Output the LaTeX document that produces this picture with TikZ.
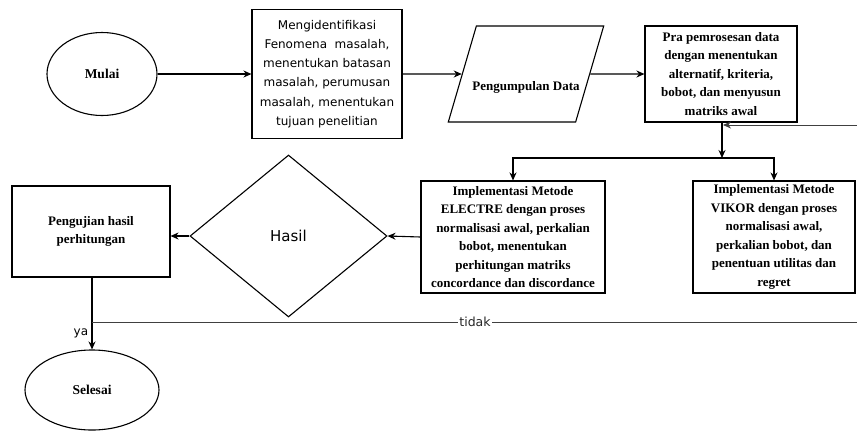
\documentclass[tikz,border=0pt]{standalone}
\usepackage{fontspec}
\setmainfont{Liberation Serif}
\setsansfont{DejaVu Sans}
\usetikzlibrary{shapes.geometric,arrows.meta}
\begin{document}
\begin{tikzpicture}[x=1pt,y=-1pt,line width=1.1pt,>={Stealth[length=8pt,width=7pt]},
	box/.style={draw,rectangle,inner sep=0pt,align=center,font=\fontsize{13}{18.5}\selectfont\bfseries},
	oval/.style={draw,ellipse,inner sep=0pt,font=\fontsize{13.5}{16}\selectfont\bfseries}]
	\useasboundingbox (0,0) rectangle (857,432);
	\node[oval,minimum width=110,minimum height=83] (mulai) at (102,74) {Mulai};
	\node[box,minimum width=150,minimum height=129,font=\sffamily\fontsize{12}{19.3}\selectfont] (ident) at (327,74) {Mengidentifikasi\\Fenomena~ masalah,\\menentukan batasan\\masalah, perumusan\\masalah, menentukan\\tujuan penelitian};
	\node[draw,trapezium,trapezium left angle=73.7,trapezium right angle=106.3,inner xsep=-4pt,inner ysep=0pt,text height=64pt,text depth=32pt,font=\fontsize{13}{16}\selectfont\bfseries] (data) at (526,74) {Pengumpulan Data};
	\node[box,minimum width=152,minimum height=96] (pra) at (721,74) {Pra pemrosesan data\\dengan menentukan\\alternatif, kriteria,\\bobot, dan menyusun\\matriks awal};
	\node[box,minimum width=184,minimum height=112] (electre) at (513,237) {Implementasi Metode\\ELECTRE dengan proses\\normalisasi awal, perkalian\\bobot, menentukan\\perhitungan matriks\\concordance dan discordance};
	\node[box,minimum width=162,minimum height=112] (vikor) at (774,237) {Implementasi Metode\\VIKOR dengan proses\\normalisasi awal,\\perkalian bobot, dan\\penentuan utilitas dan\\regret};
	\node[draw,diamond,minimum width=197,minimum height=162,inner sep=0pt,font=\sffamily\fontsize{15}{18}\selectfont] (hasil) at (288.5,236) {Hasil};
	\node[box,minimum width=158,minimum height=91] (uji) at (91,231.5) {Pengujian hasil\\perhitungan};
	\node[oval,minimum width=134,minimum height=80] (selesai) at (92,390) {Selesai};
	\coordinate (split) at (722,158);
	\coordinate (back) at (723,125);
	\coordinate (loop) at (92,322);
	% alur utama
	\draw[->] (mulai) -- (ident);
	\draw[->] (ident.east) -- (data.west);
	\draw[->] (data.east) -- (pra.west);
	\draw[->] (pra.south -| split) -- (split);
	\draw[->] (split) -| (electre.north);
	\draw[->] (split) -| (vikor.north);
	\draw[->] (electre.west) -- (hasil.east);
	\draw[->] (hasil.west) -- (hasil.west -| uji.east);
	\draw[->] (uji.south -| loop) -- node[pos=0.78,left,font=\sffamily\fontsize{12}{14}\selectfont] {ya} (selesai.north -| loop);
	\draw[->,line width=1pt,draw=black!75] (loop) -- node[fill=white,inner sep=1pt,text=black!85,font=\sffamily\fontsize{12.5}{14}\selectfont] {tidak} (858,322) -- (858,125) -- (back);
\end{tikzpicture}
\end{document}
